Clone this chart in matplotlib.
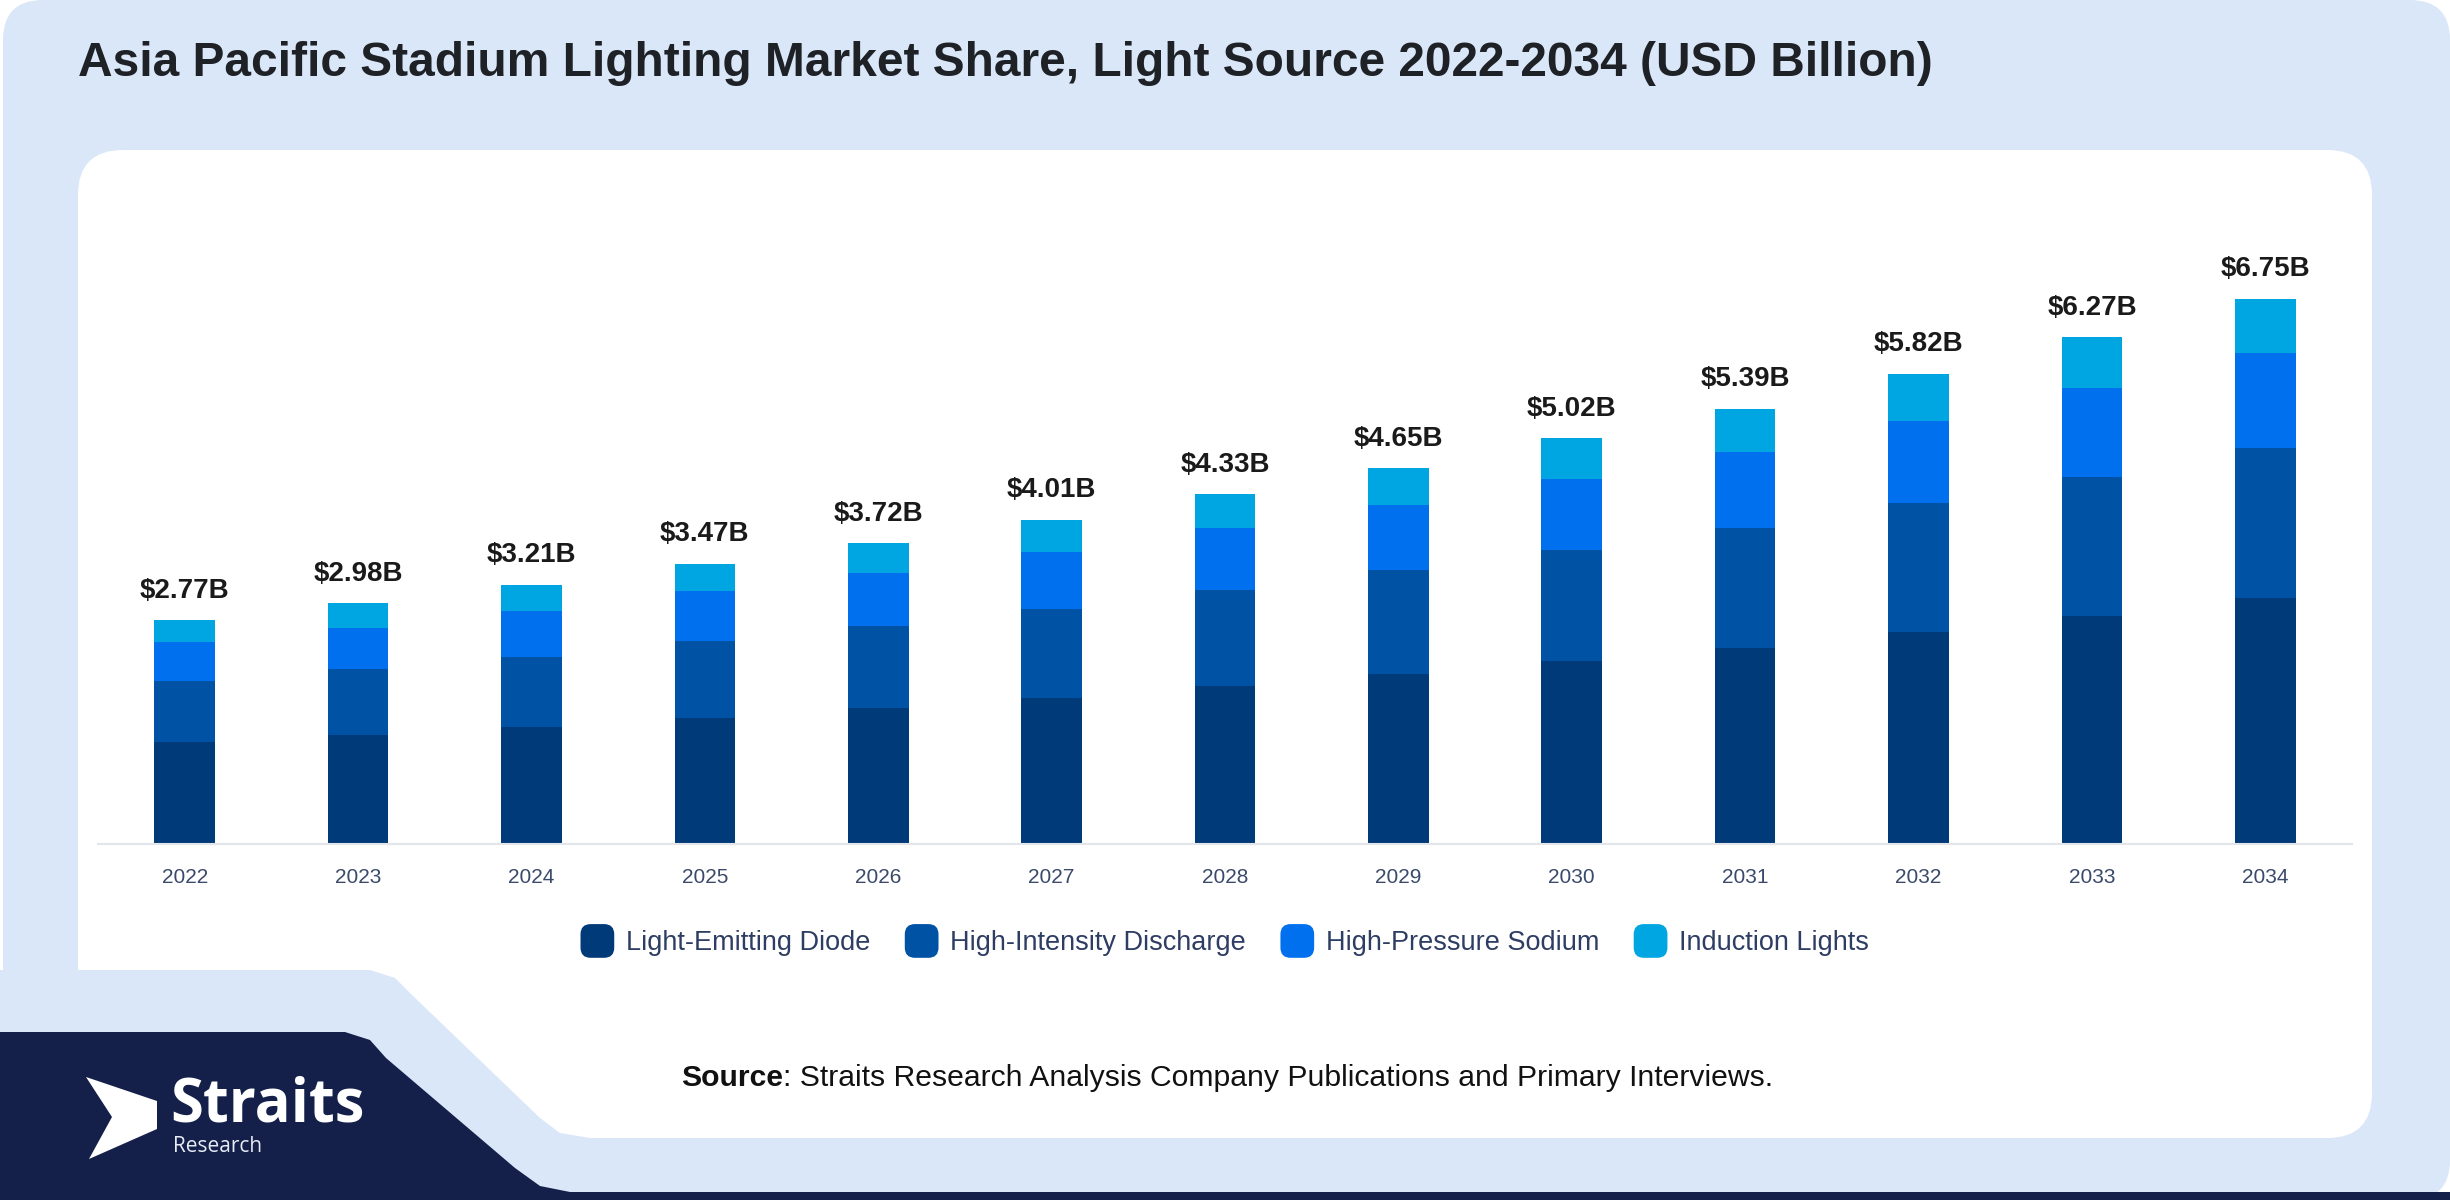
import matplotlib
matplotlib.use("Agg")
import matplotlib.pyplot as plt
from matplotlib.patches import FancyBboxPatch, Polygon, Patch
from matplotlib.legend_handler import HandlerPatch

plt.rcParams['font.family'] = ['Liberation Sans', 'DejaVu Sans']

# data (USD billion)
years = ['2022', '2023', '2024', '2025', '2026', '2027', '2028',
         '2029', '2030', '2031', '2032', '2033', '2034']
led = [1.26, 1.35, 1.45, 1.56, 1.68, 1.81, 1.96, 2.10, 2.27, 2.43, 2.62, 2.82, 3.05]
hid = [0.76, 0.81, 0.87, 0.95, 1.02, 1.10, 1.19, 1.29, 1.37, 1.48, 1.60, 1.72, 1.85]
hps = [0.48, 0.51, 0.56, 0.62, 0.65, 0.70, 0.76, 0.80, 0.88, 0.94, 1.02, 1.10, 1.18]
induction = [0.27, 0.31, 0.33, 0.34, 0.37, 0.40, 0.42, 0.46, 0.50, 0.54, 0.58, 0.63, 0.67]
totals = [2.77, 2.98, 3.21, 3.47, 3.72, 4.01, 4.33, 4.65, 5.02, 5.39, 5.82, 6.27, 6.75]

series = [
    ('Light-Emitting Diode', led, '#013A78'),
    ('High-Intensity Discharge', hid, '#0052A5'),
    ('High-Pressure Sodium', hps, '#0070EF'),
    ('Induction Lights', induction, '#00A6E2'),
]

W, H = 2450, 1200
fig = plt.figure(figsize=(W / 100, H / 100), dpi=100, facecolor='white')

# background decoration in pixel coordinates
bg = fig.add_axes([0, 0, 1, 1], zorder=0)
bg.set_xlim(0, W)
bg.set_ylim(H, 0)
bg.axis('off')

light_blue = '#DAE7F8'
navy = '#14204A'
bg.add_patch(FancyBboxPatch((3, 0), W - 3, H, boxstyle="round,pad=0,rounding_size=40",
                            fc=light_blue, ec='none'))
bg.add_patch(FancyBboxPatch((78, 150), 2294, 988, boxstyle="round,pad=0,rounding_size=45",
                            fc='white', ec='none'))
# notch at bottom left of the card
bg.add_patch(Polygon([(0, 970), (370, 970), (395, 978), (412, 995), (540, 1118),
                      (560, 1133), (590, 1138), (590, 1200), (0, 1200)],
                     closed=True, fc=light_blue, ec='none'))
bg.add_patch(Polygon([(0, 1032), (345, 1032), (370, 1040), (386, 1058), (515, 1168),
                      (540, 1186), (570, 1192), (W, 1192), (W, H), (0, H)],
                     closed=True, fc=navy, ec='none'))

# logo
bg.add_patch(Polygon([(86, 1077), (157, 1101), (157, 1129), (89, 1159), (112, 1117)],
                     closed=True, fc='white', ec='none'))
bg.text(170, 1106, 'Straits', color='white', fontsize=43, fontweight='bold',
        family=['Open Sans', 'DejaVu Sans'], va='center', ha='left')
bg.text(173, 1146, 'Research', color='#E8ECF5', fontsize=15,
        family=['Open Sans', 'DejaVu Sans'], va='center', ha='left')

# title
bg.text(78, 63, 'Asia Pacific Stadium Lighting Market Share, Light Source 2022-2034 (USD Billion)',
        fontsize=34.5, fontweight='bold', color='#1E2126', va='center', ha='left')

# source
bg.text(783, 1078, 'Source', fontsize=21.7, fontweight='bold', color='#111111',
        va='center', ha='right')
bg.text(783, 1078, ': Straits Research Analysis Company Publications and Primary Interviews.',
        fontsize=21.7, color='#111111', va='center', ha='left')

# chart
ax = fig.add_axes([98 / W, 1 - 844 / H, 2254 / W, 694 / H], zorder=1)
ax.patch.set_alpha(0)
x = list(range(len(years)))
bottom = [0] * len(years)
for name, vals, color in series:
    ax.bar(x, vals, width=0.35, bottom=bottom, color=color, label=name, zorder=2)
    bottom = [b + v for b, v in zip(bottom, vals)]

for xi, t in zip(x, totals):
    ax.annotate(f'${t:.2f}B', (xi, t), xytext=(0, 12), textcoords='offset points',
                ha='center', va='bottom', fontsize=20, fontweight='bold', color='#1A1A1A')

ax.set_xlim(-0.5, 12.5)
ax.set_ylim(0, 8.59)
ax.set_xticks(x, years)
ax.set_yticks([])
ax.tick_params(axis='x', length=0, pad=17, labelsize=15, labelcolor='#3B4A6B')
for s in ['top', 'left', 'right']:
    ax.spines[s].set_visible(False)
ax.spines['bottom'].set_color('#E2E5EA')
ax.spines['bottom'].set_linewidth(1.5)


class RoundHandler(HandlerPatch):
    def create_artists(self, legend, orig_handle, xdescent, ydescent, width, height,
                       fontsize, trans):
        s = height * 1.5
        cx = -xdescent + width / 2
        cy = -ydescent + height / 2
        p = FancyBboxPatch((cx - s / 2, cy - s / 2), s, s,
                           boxstyle=f"round,pad=0,rounding_size={s * 0.3}",
                           fc=orig_handle.get_facecolor(), ec='none', transform=trans)
        return [p]


handles = [Patch(fc=c, label=n) for n, _, c in series]
leg = fig.legend(handles=handles, loc='center', bbox_to_anchor=(0.5, 1 - 943 / H), ncol=4,
                 frameon=False, fontsize=19.5, handlelength=1.2, handleheight=0.9,
                 handletextpad=0.45, columnspacing=1.3,
                 handler_map={Patch: RoundHandler()})
for t in leg.get_texts():
    t.set_color('#2E3D63')

fig.savefig('out.png', dpi=100, facecolor=fig.get_facecolor())
